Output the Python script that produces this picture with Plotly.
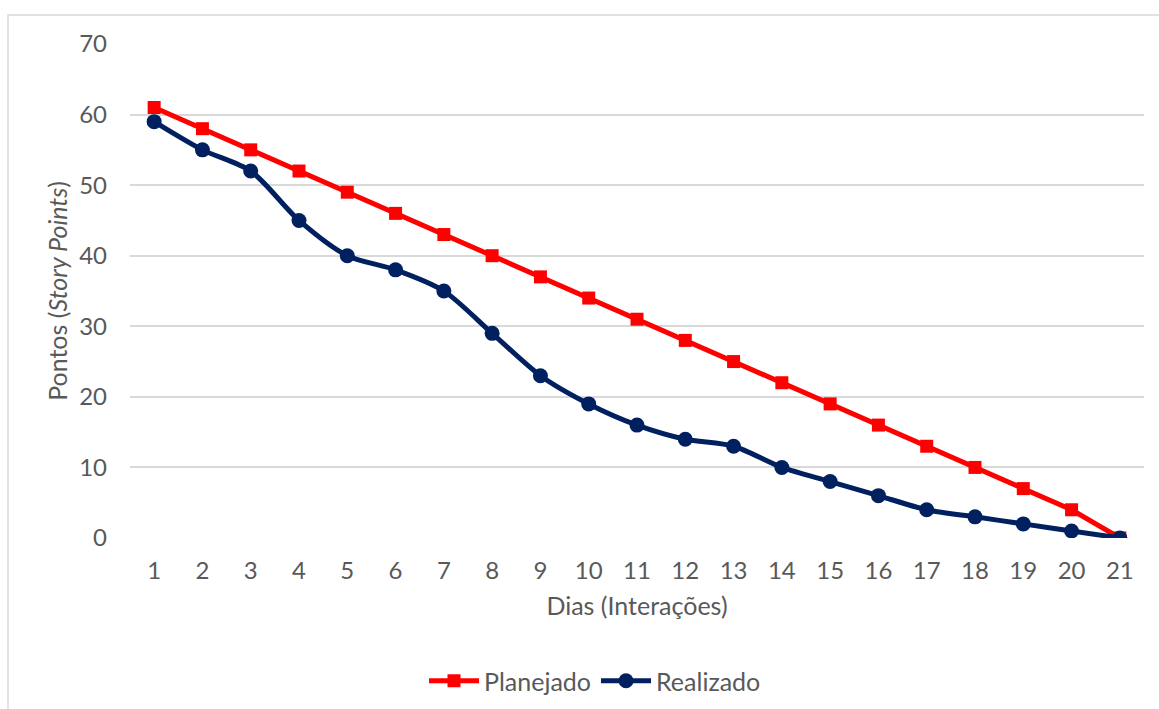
import plotly.graph_objects as go

dias = list(range(1, 22))
planejado = [61, 58, 55, 52, 49, 46, 43, 40, 37, 34, 31, 28, 25, 22, 19, 16, 13, 10, 7, 4, 0]
realizado = [59, 55, 52, 45, 40, 38, 35, 29, 23, 19, 16, 14, 13, 10, 8, 6, 4, 3, 2, 1, 0]

FONT = "Lato, Open Sans, sans-serif"
GRAY = "#595959"

W, H = 1159, 709
L, R, T, B = 130, 15, 44, 171
pw, ph = W - L - R, H - T - B

fig = go.Figure()
fig.add_trace(go.Scatter(
    x=dias, y=planejado, name="Planejado", mode="lines+markers",
    line=dict(color="#FF0000", width=5),
    marker=dict(symbol="square", size=13, color="#FF0000"),
))
fig.add_trace(go.Scatter(
    x=dias, y=realizado, name="Realizado", mode="lines+markers",
    line=dict(color="#002060", width=5, shape="spline", smoothing=0.8),
    marker=dict(symbol="circle", size=15, color="#002060"),
))

# outer chart frame
fig.add_shape(
    type="rect", xref="paper", yref="paper",
    x0=(8 - L) / pw, x1=1.5, y0=-1.0, y1=(H - B - 15) / ph,
    line=dict(color="#D9D9D9", width=1.5), fillcolor="rgba(0,0,0,0)", layer="below",
)

fig.update_layout(
    width=W, height=H,
    margin=dict(l=L, r=R, t=T, b=B, autoexpand=False),
    paper_bgcolor="white", plot_bgcolor="white",
    font=dict(family=FONT, size=24, color=GRAY),
    showlegend=True,
    legend=dict(
        orientation="h", x=(595 - L) / pw, xanchor="center",
        yref="container", y=1 - 681 / H, yanchor="middle",
        font=dict(family=FONT, size=25, color=GRAY),
        itemwidth=50,
    ),
    xaxis=dict(
        range=[0.5, 21.5], tickmode="array", tickvals=dias,
        showgrid=False, zeroline=False, showline=False, ticks="",
        ticklabelstandoff=16, automargin=False,
        tickfont=dict(family=FONT, size=24, color=GRAY),
        title=dict(text="Dias (Interações)", font=dict(family=FONT, size=25, color=GRAY), standoff=14),
    ),
    yaxis=dict(
        range=[0, 70], tickmode="array", tickvals=list(range(0, 71, 10)),
        showgrid=True, gridcolor="#D9D9D9", gridwidth=1.5,
        zeroline=False, showline=False, ticks="", ticklabelstandoff=22,
        automargin=False,
        tickfont=dict(family=FONT, size=24, color=GRAY),
        title=dict(text="Pontos (<i>Story Points</i>)", font=dict(family=FONT, size=25, color=GRAY), standoff=4),
    ),
)

fig.write_html("out.html")
